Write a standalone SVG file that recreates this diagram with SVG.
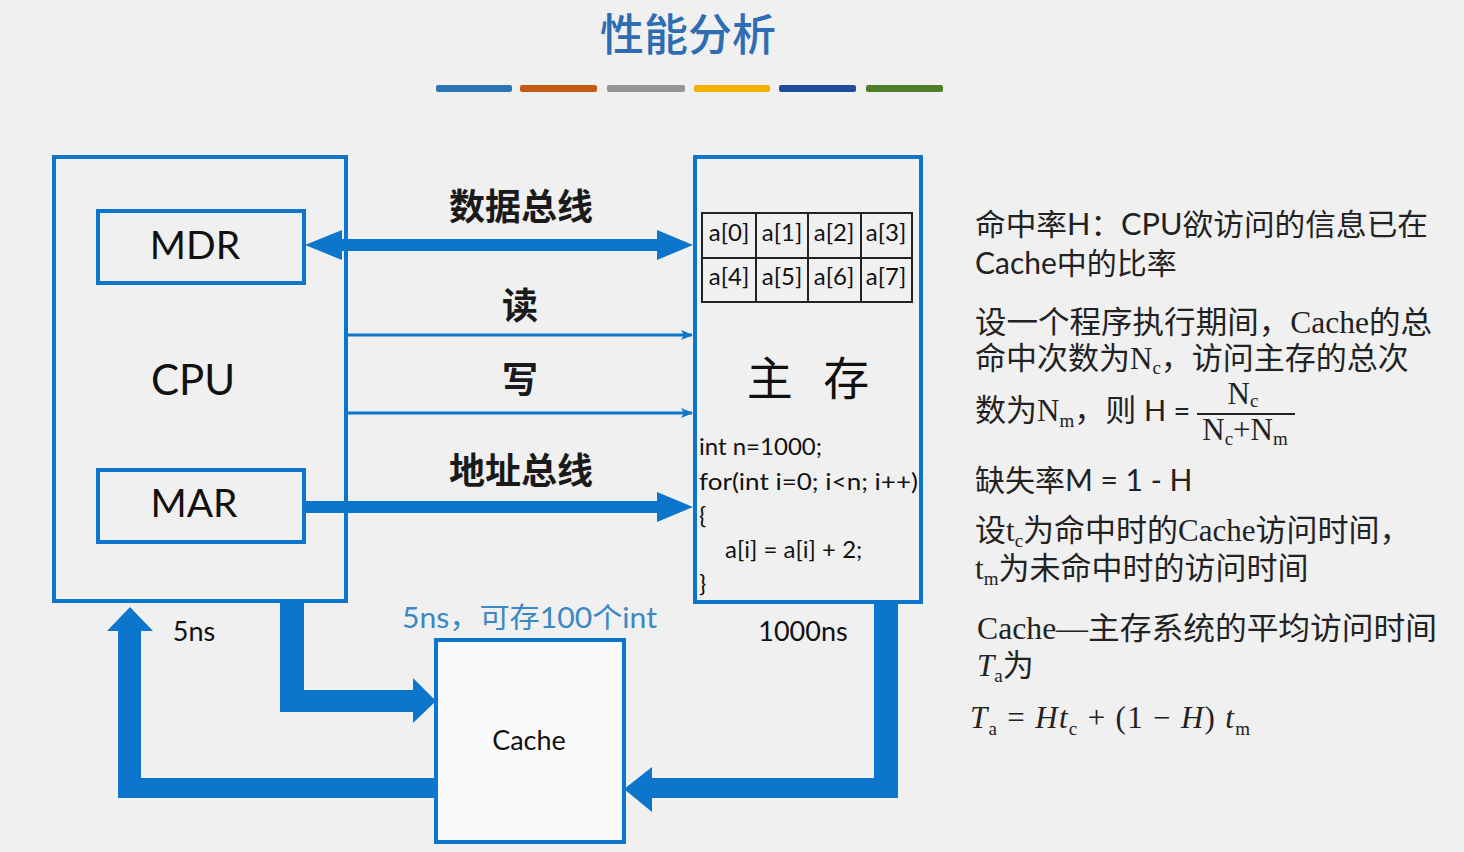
<svg xmlns="http://www.w3.org/2000/svg" width="1464" height="852" viewBox="0 0 1464 852">
<defs>
<style>
.bg{fill:#f0f0f0}
.box{fill:none;stroke:#0b76cc;stroke-width:4}
.conn{fill:#0b76cc}
.thin{stroke:#0b76cc;stroke-width:3;fill:none}
.lbl{font-family:Lato,"Liberation Sans","Noto Sans CJK SC",sans-serif;fill:#111}
.cjkb{font-family:"Noto Sans CJK SC",sans-serif;font-weight:700;fill:#1a1a1a}
.cell{font-family:Lato,"Liberation Sans",sans-serif;font-size:24px;fill:#111;text-anchor:middle}
.code{font-family:Lato,"Liberation Sans",sans-serif;font-size:24px;fill:#111}
.sans{font-family:Lato,"Noto Sans CJK SC",sans-serif;font-size:30px;fill:#222}
.serif{font-family:"Liberation Serif","Noto Sans CJK SC",serif;font-size:31px;fill:#222}
.sub{font-size:19px}
</style>
<marker id="ah" markerWidth="12" markerHeight="10" refX="11" refY="5" orient="auto" markerUnits="userSpaceOnUse">
<path d="M0,0 L12,5 L0,10 L3,5 Z" fill="#0b76cc"/>
</marker>
</defs>
<rect class="bg" x="0" y="0" width="1464" height="852"/>

<g id="title">
<text x="688" y="51" text-anchor="middle" font-family="'Noto Sans CJK SC',sans-serif" font-size="44" font-weight="500" fill="#2e6db2">性能分析</text>
<rect x="436" y="85" width="76" height="7" rx="2" fill="#2e75b6"/>
<rect x="520" y="85" width="77" height="7" rx="2" fill="#c55a11"/>
<rect x="607" y="85" width="78" height="7" rx="2" fill="#959595"/>
<rect x="694" y="85" width="76" height="7" rx="2" fill="#f2b100"/>
<rect x="779" y="85" width="77" height="7" rx="2" fill="#1f4d9b"/>
<rect x="866" y="85" width="77" height="7" rx="2" fill="#4d7f2a"/>
</g>

<g id="cpu">
<rect class="box" x="54" y="157" width="292" height="444"/>
<text class="lbl" x="193" y="395" font-size="42" text-anchor="middle">CPU</text>
</g>
<g id="mdr">
<rect class="box" x="98" y="211" width="206" height="72"/>
<text class="lbl" x="195" y="259" font-size="39" text-anchor="middle">MDR</text>
</g>
<g id="mar">
<rect class="box" x="98" y="470" width="206" height="72"/>
<text class="lbl" x="194" y="517" font-size="39" text-anchor="middle">MAR</text>
</g>

<g id="memory">
<rect class="box" x="695" y="157" width="226" height="445"/>
<rect x="702" y="213" width="210" height="89" fill="none" stroke="#222" stroke-width="2"/>
<path d="M702,258 H912 M756,213 V302 M808,213 V302 M861,213 V302" stroke="#222" stroke-width="2" fill="none"/>
<text class="cell" x="729" y="241">a[0]</text>
<text class="cell" x="782" y="241">a[1]</text>
<text class="cell" x="834" y="241">a[2]</text>
<text class="cell" x="886" y="241">a[3]</text>
<text class="cell" x="729" y="285">a[4]</text>
<text class="cell" x="782" y="285">a[5]</text>
<text class="cell" x="834" y="285">a[6]</text>
<text class="cell" x="886" y="285">a[7]</text>
<text x="808" y="395" text-anchor="middle" font-family="'Noto Sans CJK SC',serif" font-size="46" fill="#111" word-spacing="20" xml:space="preserve">主 存</text>
<text class="code" x="699" y="455">int n=1000;</text>
<text class="code" x="699" y="490" textLength="219" lengthAdjust="spacingAndGlyphs">for(int i=0; i&lt;n; i++)</text>
<text class="code" x="699" y="524">{</text>
<text class="code" x="725" y="558">a[i] = a[i] + 2;</text>
<text class="code" x="699" y="592">}</text>
</g>

<g id="cache">
<rect x="436" y="640" width="188" height="202" fill="#fafafa" stroke="#0b76cc" stroke-width="4"/>
<text class="lbl" x="529" y="750" font-size="27" text-anchor="middle">Cache</text>
</g>

<g id="connectors">
<polygon class="conn" points="305,245 342,230 342,239 657,239 657,230 693,245 657,260 657,251 342,251 342,260"/>
<polygon class="conn" points="306,501 657,501 657,492 693,507 657,522 657,513 306,513"/>
<line class="thin" x1="348" y1="335" x2="692" y2="335" marker-end="url(#ah)"/>
<line class="thin" x1="348" y1="413" x2="692" y2="413" marker-end="url(#ah)"/>
<polygon class="conn" points="436,778 141,778 141,631 153,631 130,607 107,631 118,631 118,798 436,798"/>
<polygon class="conn" points="280,603 304,603 304,690 413,690 413,678 436,701 413,723 413,712 280,712"/>
<polygon class="conn" points="874,603 898,603 898,798 652,798 652,812 624,789 652,767 652,778 874,778"/>
</g>

<g id="bus-labels">
<text class="cjkb" x="521" y="220" font-size="36" text-anchor="middle">数据总线</text>
<text class="cjkb" x="520" y="319" font-size="36" text-anchor="middle">读</text>
<text class="cjkb" x="520" y="393" font-size="36" text-anchor="middle">写</text>
<text class="cjkb" x="521" y="484" font-size="36" text-anchor="middle">地址总线</text>
</g>

<g id="timing-labels">
<text class="lbl" x="194" y="641" font-size="27" text-anchor="middle">5ns</text>
<text x="402" y="628" font-family="Lato,'Noto Sans CJK SC',sans-serif" font-size="28" fill="#3a88c4" textLength="255" lengthAdjust="spacingAndGlyphs">5ns，可存100个int</text>
<text class="lbl" x="803" y="641" font-size="27" text-anchor="middle">1000ns</text>
</g>

<g id="notes">
<text class="sans" x="975" y="235" textLength="453" lengthAdjust="spacingAndGlyphs">命中率H：CPU欲访问的信息已在</text>
<text class="sans" x="975" y="274">Cache中的比率</text>
<text class="serif" x="975" y="333" textLength="457" lengthAdjust="spacingAndGlyphs">设一个程序执行期间，Cache的总</text>
<text class="serif" x="975" y="369">命中次数为N<tspan class="sub" dy="5">c</tspan><tspan dy="-5">，访问主存的总次</tspan></text>
<text class="serif" x="975" y="421">数为N<tspan class="sub" dy="6">m</tspan><tspan dy="-6">，则 </tspan><tspan font-family="Lato,sans-serif" font-size="29">H =</tspan></text>
<text class="serif" x="1243" y="404" font-size="29" text-anchor="middle">N<tspan class="sub" dy="3">c</tspan></text>
<line x1="1197" y1="414" x2="1295" y2="414" stroke="#222" stroke-width="2"/>
<text class="serif" x="1245" y="440" text-anchor="middle">N<tspan class="sub" dy="5">c</tspan><tspan dy="-5">+N</tspan><tspan class="sub" dy="5">m</tspan></text>
<text class="sans" x="975" y="491">缺失率M = 1 - H</text>
<text class="serif" x="975" y="541">设t<tspan class="sub" dy="6">c</tspan><tspan dy="-6">为命中时的Cache访问时间，</tspan></text>
<text class="serif" x="975" y="579">t<tspan class="sub" dy="6">m</tspan><tspan dy="-6">为未命中时的访问时间</tspan></text>
<text class="serif" x="977" y="639" textLength="460" lengthAdjust="spacingAndGlyphs">Cache—主存系统的平均访问时间</text>
<text class="serif" x="977" y="676"><tspan font-style="italic">T</tspan><tspan class="sub" dy="6">a</tspan><tspan dy="-6">为</tspan></text>
<text class="serif" x="970" y="728" font-size="36" textLength="280" lengthAdjust="spacing"><tspan font-style="italic">T</tspan><tspan class="sub" dy="7" font-size="20">a</tspan><tspan dy="-7"> = </tspan><tspan font-style="italic">Ht</tspan><tspan class="sub" dy="7" font-size="20">c</tspan><tspan dy="-7"> + (1 − </tspan><tspan font-style="italic">H</tspan><tspan>) </tspan><tspan font-style="italic">t</tspan><tspan class="sub" dy="7" font-size="20">m</tspan></text>
</g>
</svg>
